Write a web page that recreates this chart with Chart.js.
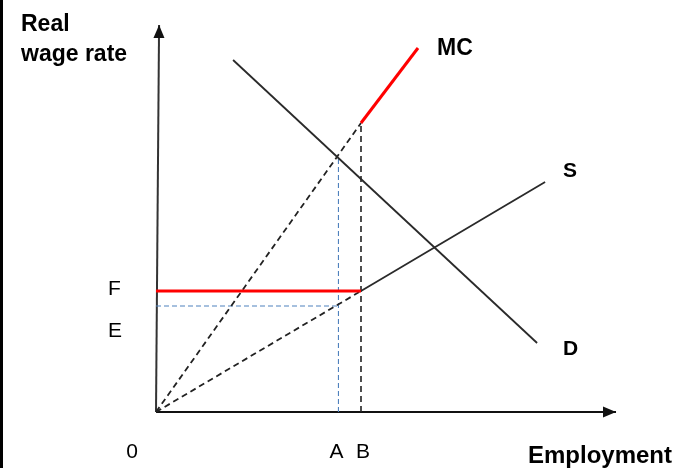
<!DOCTYPE html>
<html>
<head>
<meta charset="utf-8">
<script src="https://cdn.jsdelivr.net/npm/chart.js@4.4.1/dist/chart.umd.min.js"></script>
<style>
  body { margin: 0; background: #fff; }
  #wrap { position: relative; width: 675px; height: 468px; }
  #edge { position: absolute; left: 0; top: 0; width: 3px; height: 468px; background: #000; }
</style>
</head>
<body>
<div id="wrap">
  <canvas id="labourChart" width="675" height="468"></canvas>
  <div id="edge"></div>
</div>
<script>
// ── Values (employment units, wage units) ──
const demandX    = [3.76, 18.59];
const demandY    = [17.6, 3.45];
const supplyX    = [10, 18.98];
const supplyY    = [6.05, 11.5];
const supplyDashX = [0, 10];
const supplyDashY = [0, 6.05];
const mcX        = [10, 12.78];
const mcY        = [14.45, 18.2];
const mcDashX    = [0, 10];
const mcDashY    = [0, 14.45];

const wageLevels = [6.05, 5.3];        // F, E
const wageLabels = ['F', 'E'];
const empLevels  = [0, 8.9, 10];       // 0, A, B
const empLabels  = ['0', 'A', 'B'];
const demandAtA  = 12.8;               // top of the blue dashed line at A

const yAxisX = [0, 0.15];
const yAxisY = [0, 19.35];
const xAxisX = [0, 22.44];
const xAxisY = [0, 0];

const pts = (xs, ys) => xs.map((v, i) => ({ x: v, y: ys[i] }));

const F = wageLevels[0], E = wageLevels[1];
const A = empLevels[1], B = empLevels[2];

function line(data, color, width, dash) {
  return {
    data, borderColor: color, borderWidth: width, borderDash: dash || [],
    showLine: true, pointRadius: 0, fill: false, clip: false, tension: 0
  };
}

// arrowheads on the axes and all the text
const annotate = {
  id: 'annotate',
  afterDatasetsDraw(chart) {
    const { ctx, scales: { x, y } } = chart;
    ctx.save();

    // arrowheads
    [[yAxisX, yAxisY], [xAxisX, xAxisY]].forEach(([xs, ys]) => {
      const n = xs.length - 1;
      const tx = x.getPixelForValue(xs[n]), ty = y.getPixelForValue(ys[n]);
      const px = x.getPixelForValue(xs[n - 1]), py = y.getPixelForValue(ys[n - 1]);
      const a = Math.atan2(ty - py, tx - px);
      ctx.save();
      ctx.translate(tx, ty);
      ctx.rotate(a);
      ctx.beginPath();
      ctx.moveTo(0, 0);
      ctx.lineTo(-13, -5.5);
      ctx.lineTo(-13, 5.5);
      ctx.closePath();
      ctx.fillStyle = '#111';
      ctx.fill();
      ctx.restore();
    });

    ctx.fillStyle = '#000';
    ctx.textBaseline = 'alphabetic';

    // wage labels
    ctx.font = '21px "Liberation Sans", Arial, sans-serif';
    ctx.textAlign = 'left';
    ctx.fillText(wageLabels[0], 108, y.getPixelForValue(F) + 4);
    ctx.fillText(wageLabels[1], 108, y.getPixelForValue(E) + 31);

    // employment labels
    ctx.textAlign = 'center';
    ctx.fillText(empLabels[0], 132, 458);
    ctx.fillText(empLabels[1], x.getPixelForValue(A) - 2, 458);
    ctx.fillText(empLabels[2], x.getPixelForValue(B) + 2, 458);

    // curve and axis titles
    ctx.textAlign = 'left';
    ctx.font = 'bold 23px "Liberation Sans", Arial, sans-serif';
    ctx.fillText('Real', 21, 31);
    ctx.fillText('wage rate', 21, 61);
    ctx.fillText('MC', 437, 55);
    ctx.font = 'bold 21px "Liberation Sans", Arial, sans-serif';
    ctx.fillText('S', 563, 177);
    ctx.fillText('D', 563, 355);
    ctx.font = 'bold 24px "Liberation Sans", Arial, sans-serif';
    ctx.fillText('Employment', 528, 463);

    ctx.restore();
  }
};

new Chart(document.getElementById('labourChart').getContext('2d'), {
  type: 'scatter',
  data: {
    datasets: [
      line(pts(mcX, mcY), '#ff0000', 3),
      line(pts([0, B], [F, F]), '#ff0000', 3),
      line(pts(demandX, demandY), '#2a2a2a', 1.8),
      line(pts(supplyX, supplyY), '#2a2a2a', 1.8),
      line(pts(supplyDashX, supplyDashY), '#222', 1.8, [6, 4]),
      line(pts(mcDashX, mcDashY), '#222', 1.8, [6, 4]),
      line(pts([B, B], [0, mcY[0]]), '#222', 1.6, [6, 4]),
      line(pts([0, A], [E, E]), '#4f81bd', 1.1, [5, 3]),
      line(pts([A, A], [0, demandAtA]), '#4f81bd', 1.1, [5, 3]),
      line(pts(yAxisX, yAxisY), '#333', 2),
      line(pts(xAxisX, xAxisY), '#111', 2)
    ]
  },
  options: {
    responsive: false,
    animation: false,
    layout: { padding: 0 },
    plugins: { legend: { display: false }, tooltip: { enabled: false } },
    scales: {
      x: { type: 'linear', display: false, min: -156 / 20.5, max: (675 - 156) / 20.5 },
      y: { type: 'linear', display: false, min: (412 - 468) / 20, max: 412 / 20 }
    }
  },
  plugins: [annotate]
});
</script>
</body>
</html>
